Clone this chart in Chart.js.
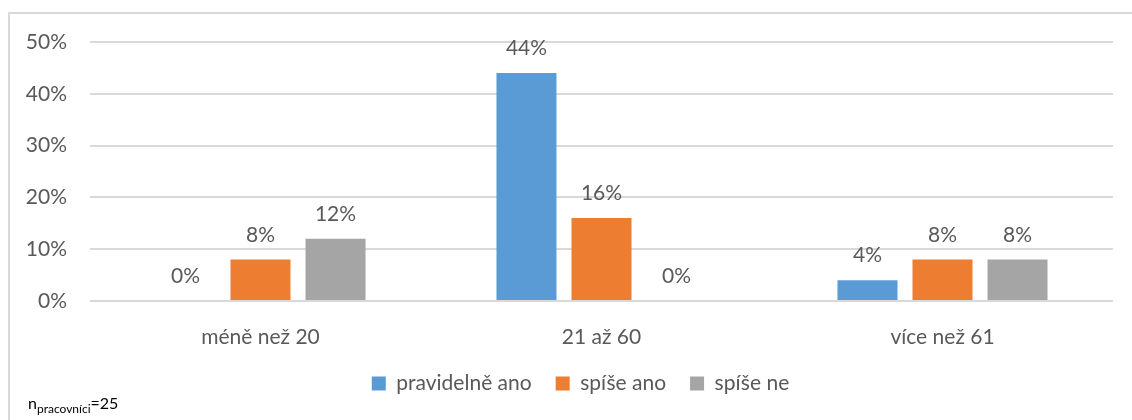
<!DOCTYPE html>
<html>
<head>
<meta charset="utf-8">
<script src="https://cdn.jsdelivr.net/npm/chart.js@4"></script>
<style>
  body { margin: 0; background: #fff; }
  #wrap { position: relative; width: 1132px; height: 420px; overflow: hidden; }
  #frame { position: absolute; left: 8px; top: 12px; width: 1200px; height: 500px; border: 2px solid #d9d9d9; box-sizing: border-box; }
  #chart { position: absolute; left: 0; top: 0; }
  #note { position: absolute; left: 28px; top: 393px; font-family: Lato, sans-serif; font-size: 16px; color: #000; }
  #note sub { font-size: 12px; vertical-align: -4px; line-height: 0; }
</style>
</head>
<body>
<div id="wrap">
  <div id="frame"></div>
  <canvas id="chart" width="1132" height="420"></canvas>
  <div id="note">n<sub>pracovníci</sub>=25</div>
</div>
<script>
// Age groups and answer shares (%)
const categories = ["méně než 20", "21 až 60", "více než 61"];
const pravidelneAno = [0, 44, 4];
const spiseAno = [8, 16, 8];
const spiseNe = [12, 0, 8];
const yTicks = [0, 10, 20, 30, 40, 50];

const textColor = "#595959";
const fontFamily = "Lato, 'Open Sans', sans-serif";
const fontSize = 21;

// Value labels above each bar
const valueLabels = {
  id: "valueLabels",
  afterDatasetsDraw(chart) {
    const ctx = chart.ctx;
    ctx.save();
    ctx.font = fontSize + "px " + fontFamily;
    ctx.fillStyle = textColor;
    ctx.textAlign = "center";
    ctx.textBaseline = "alphabetic";
    chart.data.datasets.forEach((ds, i) => {
      chart.getDatasetMeta(i).data.forEach((bar, j) => {
        ctx.fillText(ds.data[j] + "%", bar.x, bar.y - 18);
      });
    });
    ctx.restore();
  },
};

// Nudge the legend a bit right so it sits closer under the plot
const legendShift = {
  id: "legendShift",
  afterLayout(chart) {
    chart.legend.left += 24;
    chart.legend.right += 24;
  },
};

new Chart(document.getElementById("chart"), {
  type: "bar",
  data: {
    labels: categories,
    datasets: [
      { label: "pravidelně ano", data: pravidelneAno, backgroundColor: "#5b9bd5" },
      { label: "spíše ano", data: spiseAno, backgroundColor: "#ed7d31" },
      { label: "spíše ne", data: spiseNe, backgroundColor: "#a5a5a5" },
    ],
  },
  options: {
    responsive: false,
    animation: false,
    categoryPercentage: 0.66,
    barPercentage: 0.8,
    layout: { padding: { top: 42, right: 19, bottom: 16, left: 0 } },
    scales: {
      x: {
        grid: { display: false },
        border: { display: false },
        ticks: { color: textColor, font: { family: fontFamily, size: fontSize }, padding: 16 },
        afterFit: (s) => { s.height = 48; },
      },
      y: {
        min: 0,
        max: 50,
        afterBuildTicks: (s) => { s.ticks = yTicks.map((v) => ({ value: v })); },
        grid: { color: "#d9d9d9", lineWidth: 2, drawTicks: false },
        border: { display: false },
        ticks: {
          color: textColor,
          font: { family: fontFamily, size: fontSize },
          padding: 23,
          callback: (v) => v + "%",
        },
        afterFit: (s) => { s.width = 90; },
      },
    },
    plugins: {
      legend: {
        position: "bottom",
        labels: {
          color: textColor,
          font: { family: fontFamily, size: fontSize },
          boxWidth: 14,
          boxHeight: 14,
          padding: 24,
        },
      },
      tooltip: { enabled: false },
    },
  },
  plugins: [valueLabels, legendShift],
});
</script>
</body>
</html>
